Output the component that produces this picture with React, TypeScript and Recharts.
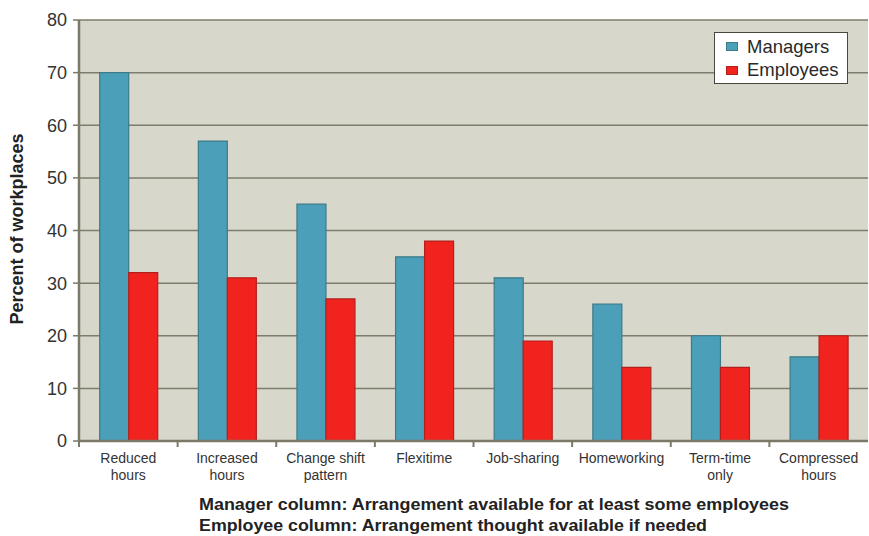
import React from 'react';
import { BarChart, Bar, XAxis, YAxis, CartesianGrid } from 'recharts';

// Flexible working arrangements by category
const categories = [
  'Reduced hours',
  'Increased hours',
  'Change shift pattern',
  'Flexitime',
  'Job-sharing',
  'Homeworking',
  'Term-time only',
  'Compressed hours',
];
const tickLabels = [
  ['Reduced', 'hours'],
  ['Increased', 'hours'],
  ['Change shift', 'pattern'],
  ['Flexitime'],
  ['Job-sharing'],
  ['Homeworking'],
  ['Term-time', 'only'],
  ['Compressed', 'hours'],
];
const managers = [70, 57, 45, 35, 31, 26, 20, 16];
const employees = [32, 31, 27, 38, 19, 14, 14, 20];
const yTicks = [0, 10, 20, 30, 40, 50, 60, 70, 80];
const footnotes = [
  'Manager column: Arrangement available for at least some employees',
  'Employee column: Arrangement thought available if needed',
];

const data = categories.map((name, i) => ({
  name,
  Managers: managers[i],
  Employees: employees[i],
}));

const FONT = '"Liberation Sans", Arial, Helvetica, sans-serif';
const AXIS = '#7b7967';
const BLUE = '#4b9fb8';
const BLUE_EDGE = '#3c7b88';
const RED = '#f0231f';
const RED_EDGE = '#b3201c';

const series = [
  { key: 'Managers', fill: BLUE, edge: BLUE_EDGE },
  { key: 'Employees', fill: RED, edge: RED_EDGE },
];

const XTick = (props: any) => {
  const { x, y, payload, index } = props;
  const lines = tickLabels[index] || [payload.value];
  const off = payload.offset ?? 0;
  return (
    <g>
      <line x1={x - off} x2={x - off} y1={y - 1} y2={y + 6} stroke={AXIS} strokeWidth={2} />
      <text x={x} y={y} textAnchor="middle" fontFamily={FONT} fontSize={14} fill="#333">
        {lines.map((l: string, k: number) => (
          <tspan key={k} x={x} dy={k === 0 ? 22 : 17}>
            {l}
          </tspan>
        ))}
      </text>
    </g>
  );
};

const LegendBox = () => (
  <div
    style={{
      position: 'absolute',
      left: 714,
      top: 32,
      width: 134,
      height: 52,
      background: '#fff',
      border: '1.5px solid #4a463c',
      fontFamily: FONT,
      fontSize: 18.5,
      color: '#2a2a2a',
      boxSizing: 'border-box',
      paddingTop: 2,
    }}
  >
    {series.map((e) => (
      <div key={e.key} style={{ display: 'flex', alignItems: 'center', height: 23.5 }}>
        <span
          style={{
            display: 'inline-block',
            width: 10,
            height: 7,
            background: e.fill,
            border: `1px solid ${e.edge}`,
            marginLeft: 11,
            marginRight: 9,
          }}
        />
        <span>{e.key}</span>
      </div>
    ))}
  </div>
);

export default function App() {
  return (
    <div style={{ position: 'absolute', left: 0, top: 0, width: 869, height: 536, background: '#fff' }}>
      <BarChart
        width={869}
        height={536}
        data={data}
        margin={{ top: 20, right: 1, left: 0, bottom: 0 }}
        barCategoryGap="21%"
        barGap={0}
      >
        <CartesianGrid vertical={false} fill="#d8d7cc" stroke="#7e7c6c" strokeWidth={1.5} />
        <XAxis
          dataKey="name"
          height={95}
          interval={0}
          tickLine={false}
          tickSize={0}
          tickMargin={0}
          axisLine={{ stroke: AXIS, strokeWidth: 2.5 }}
          tick={<XTick />}
        />
        <YAxis
          width={79}
          domain={[0, 80]}
          ticks={yTicks}
          interval={0}
          tickSize={6}
          tickMargin={6}
          tickLine={{ stroke: AXIS, strokeWidth: 1.5 }}
          axisLine={{ stroke: AXIS, strokeWidth: 2.5 }}
          tick={{ fontFamily: FONT, fontSize: 18, fill: '#333' }}
          label={{
            content: () => (
              <text
                x={23}
                y={229}
                transform="rotate(-90 23 229)"
                textAnchor="middle"
                fontFamily={FONT}
                fontWeight="bold"
                fontSize={18}
                fill="#222"
              >
                Percent of workplaces
              </text>
            ),
          }}
        />
        {series.map((s) => (
          <Bar
            key={s.key}
            dataKey={s.key}
            fill={s.fill}
            stroke={s.edge}
            strokeWidth={1.2}
            isAnimationActive={false}
          />
        ))}
      </BarChart>
      <LegendBox />
      <svg
        width={869}
        height={536}
        style={{ position: 'absolute', left: 0, top: 0, pointerEvents: 'none' }}
      >
        {footnotes.map((t, i) => (
          <text
            key={i}
            x={199}
            y={510 + i * 21}
            fontFamily={FONT}
            fontWeight="bold"
            fontSize={17}
            fill="#222"
            textLength={i === 0 ? 590 : 508}
            lengthAdjust="spacingAndGlyphs"
          >
            {t}
          </text>
        ))}
      </svg>
    </div>
  );
}
